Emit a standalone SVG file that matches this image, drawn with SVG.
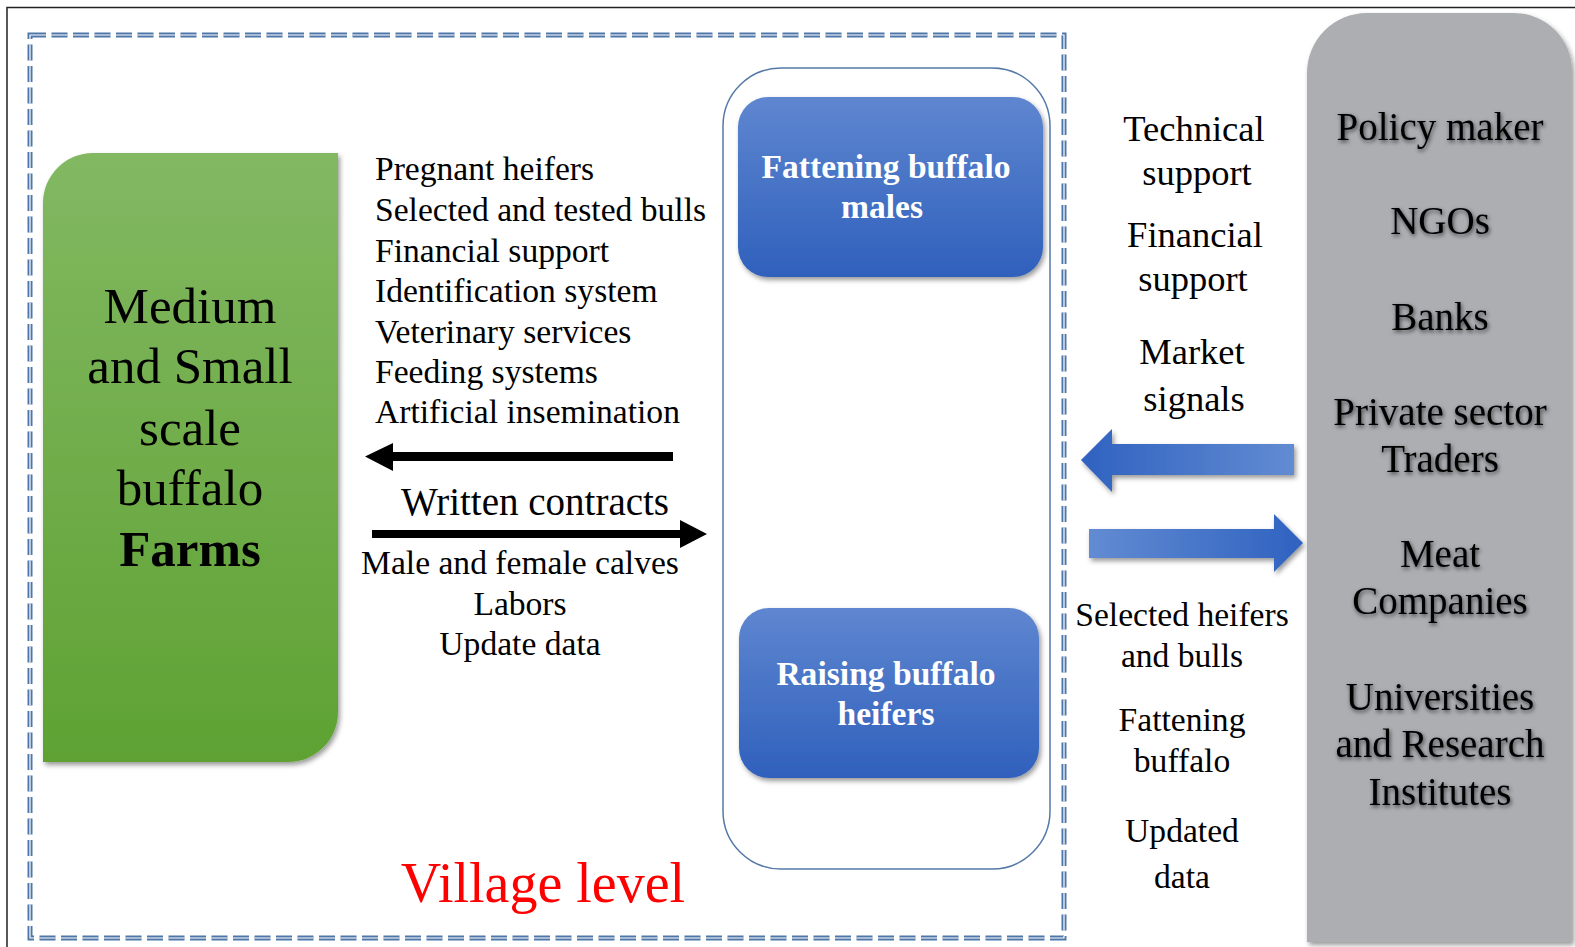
<svg xmlns="http://www.w3.org/2000/svg" width="1575" height="947" viewBox="0 0 1575 947">
<style>
text{font-family:"Liberation Serif","Times New Roman",serif;fill:#000}
.list{font-size:33.6px}
.farm{font-size:51px;text-anchor:middle}
.blue{font-size:33.6px;font-weight:bold;fill:#fff;text-anchor:middle}
.mid{font-size:36.5px;text-anchor:middle}
.low{font-size:33.6px;text-anchor:middle}
.org{font-size:39px;text-anchor:middle}
</style>
<defs>
<linearGradient id="gGreen" x1="0" y1="0" x2="0" y2="1"><stop offset="0" stop-color="#82b862"/><stop offset="1" stop-color="#5fa233"/></linearGradient>
<linearGradient id="gBlue" x1="0" y1="0" x2="0" y2="1"><stop offset="0" stop-color="#5f86d0"/><stop offset="1" stop-color="#2f60bc"/></linearGradient>
<linearGradient id="gArrL" x1="0" y1="0" x2="1" y2="0"><stop offset="0" stop-color="#2f62c0"/><stop offset="1" stop-color="#628bd2"/></linearGradient>
<linearGradient id="gArrR" x1="0" y1="0" x2="1" y2="0"><stop offset="0" stop-color="#628bd2"/><stop offset="1" stop-color="#2f62c0"/></linearGradient>
<filter id="shadow" x="-10%" y="-10%" width="120%" height="120%"><feDropShadow dx="2" dy="3" stdDeviation="2.5" flood-color="#000" flood-opacity="0.4"/></filter>
<filter id="tshadow" x="-10%" y="-30%" width="120%" height="160%"><feDropShadow dx="1" dy="2" stdDeviation="2" flood-color="#000" flood-opacity="0.65"/></filter>
</defs>
<rect width="1575" height="947" fill="#fff"/>
<path d="M7,947 V7.5 H1575" fill="none" stroke="#222" stroke-width="1.5"/>
<g id="village-frame">
<rect x="30" y="35" width="1034" height="903" fill="none" stroke="#4f76a8" stroke-width="5" stroke-dasharray="16 5.5"/>
<rect x="30" y="35" width="1034" height="903" fill="none" stroke="#fff" stroke-width="1.2" stroke-dasharray="16 5.5"/>
</g>
<g id="farms">
<path d="M93,153 H338 V712 A50,50 0 0 1 288,762 H43 V203 A50,50 0 0 1 93,153 Z" fill="url(#gGreen)" filter="url(#shadow)"/>
<text class="farm" x="190" y="323">Medium</text>
<text class="farm" x="190" y="383">and Small</text>
<text class="farm" x="190" y="445">scale</text>
<text class="farm" x="190" y="505">buffalo</text>
<text class="farm" x="190" y="566" font-weight="bold">Farms</text>
</g>
<g id="services-list">
<text class="list" x="375" y="180">Pregnant heifers</text>
<text class="list" x="375" y="221">Selected and tested bulls</text>
<text class="list" x="375" y="262">Financial support</text>
<text class="list" x="375" y="302">Identification system</text>
<text class="list" x="375" y="343">Veterinary services</text>
<text class="list" x="375" y="383">Feeding systems</text>
<text class="list" x="375" y="423">Artificial insemination</text>
<text x="535" y="515" font-size="39" text-anchor="middle">Written contracts</text>
<text class="low" x="520" y="574">Male and female calves</text>
<text class="low" x="520" y="615">Labors</text>
<text class="low" x="520" y="655">Update data</text>
</g>
<g id="village-units">
<rect x="723" y="68" width="327" height="801" rx="58" fill="none" stroke="#5479a8" stroke-width="1.5"/>
</g>
<g id="fattening">
<rect x="738" y="97" width="305" height="180" rx="30" fill="url(#gBlue)" filter="url(#shadow)"/>
<text class="blue" x="886" y="178">Fattening buffalo</text>
<text class="blue" x="882" y="218">males</text>
</g>
<g id="raising">
<rect x="739" y="608" width="300" height="170" rx="30" fill="url(#gBlue)" filter="url(#shadow)"/>
<text class="blue" x="886" y="685">Raising buffalo</text>
<text class="blue" x="886" y="725">heifers</text>
</g>
<g id="support-labels">
<text class="mid" x="1194" y="141">Technical</text>
<text class="mid" x="1197" y="185">support</text>
<text class="mid" x="1195" y="247">Financial</text>
<text class="mid" x="1193" y="291">support</text>
<text class="mid" x="1192" y="364">Market</text>
<text class="mid" x="1194" y="411">signals</text>
</g>
<g id="product-labels">
<text class="low" x="1182" y="626">Selected heifers</text>
<text class="low" x="1182" y="667">and bulls</text>
<text class="low" x="1182" y="731">Fattening</text>
<text class="low" x="1182" y="772">buffalo</text>
<text class="low" x="1182" y="842">Updated</text>
<text class="low" x="1182" y="888">data</text>
</g>
<g id="stakeholders">
<path d="M1307,942 V73 A60,60 0 0 1 1367,13 H1514 A58,58 0 0 1 1572,71 V942 Z" fill="#acaeb2" filter="url(#shadow)"/>
<g filter="url(#tshadow)">
<text class="org" x="1440" y="140">Policy maker</text>
<text class="org" x="1440" y="234">NGOs</text>
<text class="org" x="1440" y="330">Banks</text>
<text class="org" x="1440" y="425">Private sector</text>
<text class="org" x="1440" y="472">Traders</text>
<text class="org" x="1440" y="567">Meat</text>
<text class="org" x="1440" y="614">Companies</text>
<text class="org" x="1440" y="710">Universities</text>
<text class="org" x="1440" y="757">and Research</text>
<text class="org" x="1440" y="805">Institutes</text>
</g>
</g>
<g id="connectors">
<polygon points="365,456.5 393,443 393,452 673,452 673,461 393,461 393,471" fill="#000"/>
<polygon points="707,534 680,520 680,530 372,530 372,538 680,538 680,548" fill="#000"/>
<polygon points="1081,460 1112,429 1112,444 1294,444 1294,475 1112,475 1112,492" fill="url(#gArrL)" filter="url(#shadow)"/>
<polygon points="1303,543 1274,514 1274,529 1089,529 1089,558 1274,558 1274,572" fill="url(#gArrR)" filter="url(#shadow)"/>
<text x="543" y="902" font-size="56" text-anchor="middle" style="fill:#ff0000">Village level</text>
</g>
</svg>
